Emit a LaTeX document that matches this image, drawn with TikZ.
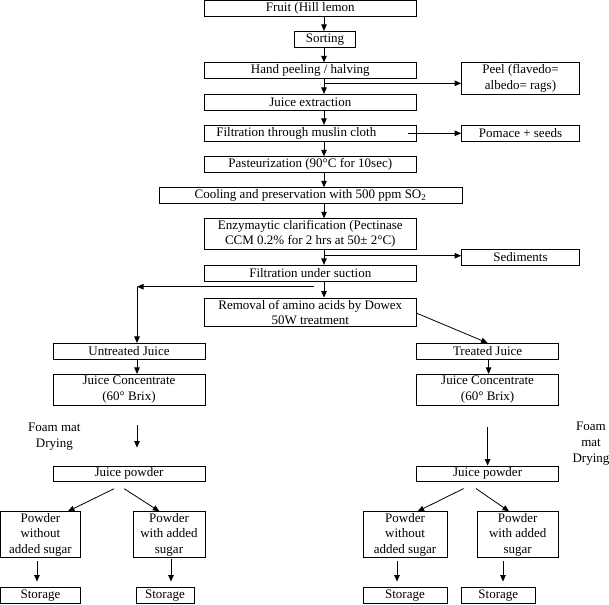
\documentclass[tikz,border=0pt]{standalone}
\usepackage{fontspec}
\setmainfont{Liberation Serif}
\usetikzlibrary{arrows.meta}

\tikzset{every picture/.style={line width=0.8pt}}
\tikzset{
  box/.style={draw, inner sep=0pt, align=center, font=\fontsize{13}{15.5}\selectfont},
  note/.style={inner sep=0pt, align=center, font=\fontsize{13}{16}\selectfont},
  arr/.style={-{Triangle[length=6.5pt,width=5.5pt]}},
}

\begin{document}
\begin{tikzpicture}[x=1pt, y=-1pt]
    \useasboundingbox (0,0) rectangle (609,604);
    \coordinate (spine) at (324,0);

    \node[box, minimum width=212.5pt, minimum height=15.5pt] (fruit) at (310.3,8.3) {Fruit (Hill lemon};
    \node[box, minimum width=61pt, minimum height=15.7pt] (sorting) at (325,39.2) {Sorting};
    \node[box, minimum width=212.5pt, minimum height=16pt] (peeling) at (310.3,70.7) {Hand peeling / halving};
    \node[box, minimum width=118pt, minimum height=31.6pt] (peel) at (520.5,78.5) {Peel (flavedo=\\albedo= rags)};
    \node[box, minimum width=212.5pt, minimum height=15.7pt] (extract) at (310.3,102.2) {Juice extraction};
    \node[box, minimum width=212.5pt, minimum height=16pt] (muslin) at (310.3,133.3) {Filtration through muslin cloth\hspace*{28pt}};
    \node[box, minimum width=118pt, minimum height=16pt] (pomace) at (520.5,133.3) {Pomace + seeds};
    \node[box, minimum width=212.5pt, minimum height=15.6pt] (pasteur) at (310.3,164.5) {Pasteurization (90°C for 10sec)};
    \node[box, minimum width=303pt, minimum height=15.6pt] (cooling) at (310.5,195.5) {Cooling and preservation with 500 ppm SO\textsubscript{2}};
    \node[box, minimum width=212.5pt, minimum height=30.6pt] (enzyme) at (310.3,234) {Enzymaytic clarification (Pectinase\\CCM 0.2\% for 2 hrs at 50± 2°C)};
    \node[box, minimum width=118pt, minimum height=16pt] (sediment) at (520.5,257.3) {Sediments};
    \node[box, minimum width=212.5pt, minimum height=16pt] (suction) at (310.3,273.3) {Filtration under suction};
    \node[box, minimum width=212.5pt, minimum height=28.7pt] (removal) at (310.3,312.3) {Removal of amino acids by Dowex\\50W treatment};

    \node[box, minimum width=152pt, minimum height=15.7pt] (untreated) at (129,351.2) {Untreated Juice};
    \node[box, minimum width=142.2pt, minimum height=15.7pt] (treated) at (487.6,351.2) {Treated Juice};
    \node[box, minimum width=152pt, minimum height=30.7pt] (concL) at (129,389.7) {Juice Concentrate\\(60° Brix)};
    \node[box, minimum width=142.2pt, minimum height=30.7pt] (concR) at (487.6,389.7) {Juice Concentrate\\(60° Brix)};
    \node[note] (foamL) at (54.4,436.3) {Foam mat\\Drying};
    \node[note] (foamR) at (591,444) {Foam\\mat\\Drying};
    \node[box, minimum width=152pt, minimum height=15.7pt] (powderL) at (129,473.8) {Juice powder};
    \node[box, minimum width=142.2pt, minimum height=15.7pt] (powderR) at (487.6,473.8) {Juice powder};

    \node[box, minimum width=79.9pt, minimum height=45.6pt] (plainL) at (40.45,534.5) {Powder\\without\\added sugar};
    \node[box, minimum width=72pt, minimum height=45.6pt] (sugarL) at (169,534.5) {Powder\\with added\\sugar};
    \node[box, minimum width=83.8pt, minimum height=45.6pt] (plainR) at (405,534.5) {Powder\\without\\added sugar};
    \node[box, minimum width=81.3pt, minimum height=45.6pt] (sugarR) at (517.7,534.5) {Powder\\with added\\sugar};
    \node[box, minimum width=79.9pt, minimum height=16.5pt] (storeA) at (40.45,595.2) {Storage};
    \node[box, minimum width=58pt, minimum height=16.5pt] (storeB) at (165,595.2) {Storage};
    \node[box, minimum width=83.8pt, minimum height=16.5pt] (storeC) at (405,595.2) {Storage};
    \node[box, minimum width=73.5pt, minimum height=16.5pt] (storeD) at (498.3,595.2) {Storage};

    \draw[arr] (fruit.south -| spine) -- (sorting.north -| spine);
    \draw[arr] (sorting.south -| spine) -- (peeling.north -| spine);
    \draw[arr] (peeling.south -| spine) -- (extract.north -| spine);
    \draw[arr] (extract.south -| spine) -- (muslin.north -| spine);
    \draw[arr] (muslin.south -| spine) -- (pasteur.north -| spine);
    \draw[arr] (pasteur.south -| spine) -- (cooling.north -| spine);
    \draw[arr] (cooling.south -| spine) -- (enzyme.north -| spine);
    \draw[arr] (enzyme.south -| spine) -- (suction.north -| spine);
    \draw[arr] (suction.south -| spine) -- (removal.north -| spine);

    \coordinate (peelfork) at (324,83.3);
    \draw[arr] (peelfork) -- (peelfork -| peel.west);
    \draw[arr] ([xshift=-8.5pt]muslin.east) -- (pomace.west);
    \coordinate (sedfork) at (324,255.7);
    \draw[arr] (sedfork) -- (sedfork -| sediment.west);

    \coordinate (splitR) at (314,286.7);
    \coordinate (splitL) at (137,286.7);
    \draw[arr] (splitR) -- (splitL);
    \draw[arr] (splitL) -- (untreated.north -| splitL);
    \draw[arr] ([yshift=-1pt]removal.east) -- (treated.north);

    \draw[arr] (untreated.south -| splitL) -- (concL.north -| splitL);
    \draw[arr] ([xshift=1pt]treated.south) -- ([xshift=1pt]concR.north);
    \draw[arr] ([yshift=-20pt]concL.south -| splitL) -- ([yshift=18pt]powderL.north -| splitL);
    \draw[arr] ([yshift=-22pt]concR.south) -- (powderR.north);

    \draw[arr] ([xshift=-15pt,yshift=-6.7pt]powderL.south) -- ([xshift=27.5pt]plainL.north);
    \draw[arr] ([xshift=-4.7pt,yshift=-6.7pt]powderL.south) -- ([xshift=-9.7pt]sugarL.north);
    \draw[arr] ([xshift=-24pt,yshift=-6.5pt]powderR.south) -- ([xshift=12.6pt]plainR.north);
    \draw[arr] ([xshift=-11.6pt,yshift=-6.5pt]powderR.south) -- ([xshift=-8.7pt]sugarR.north);

    \draw[arr] ([xshift=-3.5pt,yshift=-3.5pt]plainL.south) -- ([xshift=-3.5pt,yshift=5pt]storeA.north);
    \draw[arr] ([xshift=2pt,yshift=-1pt]sugarL.south) -- ([xshift=6pt,yshift=5pt]storeB.north);
    \draw[arr] ([xshift=-8pt,yshift=-3pt]plainR.south) -- ([xshift=-8pt,yshift=5pt]storeC.north);
    \draw[arr] ([xshift=-14.7pt,yshift=-3.5pt]sugarR.south) -- ([xshift=4.7pt,yshift=5pt]storeD.north);
\end{tikzpicture}
\end{document}
